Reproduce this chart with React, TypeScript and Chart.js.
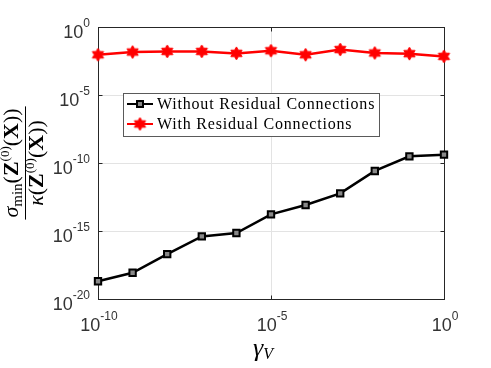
import { useEffect, useRef } from 'react';
import { Chart, registerables } from 'chart.js';

Chart.register(...registerables);

// ---- data ----
const gammaV = [1e-10, 1e-9, 1e-8, 1e-7, 1e-6, 1e-5, 1e-4, 1e-3, 1e-2, 1e-1, 1];
const withoutResidual = [2.0e-19, 8.5e-19, 2.0e-17, 4.0e-16, 7.1e-16, 1.66e-14, 8.1e-14, 5.9e-13, 2.6e-11, 3.1e-10, 4.1e-10];
const withResidual = [9.1e-3, 1.45e-2, 1.6e-2, 1.6e-2, 1.15e-2, 1.8e-2, 9.1e-3, 2.2e-2, 1.23e-2, 1.1e-2, 6.9e-3];
const seriesLabels = ['Without Residual Connections', 'With Residual Connections'];
const xTickValues = [1e-10, 1e-5, 1];
const xTickExponents = ['-10', '-5', '0'];
const yTickValues = [1e-20, 1e-15, 1e-10, 1e-5, 1];
const yTickExponents = ['-20', '-15', '-10', '-5', '0'];

const SANS = '"Liberation Sans", Arial, sans-serif';
const SERIF = '"Liberation Serif", "Times New Roman", serif';
const AXIS_COLOR = '#262626';

function makeHexagram(r: number, color: string): HTMLCanvasElement {
  const size = Math.ceil(2 * r + 2);
  const c = document.createElement('canvas');
  c.width = size;
  c.height = size;
  const g = c.getContext('2d')!;
  const cx = size / 2;
  const cy = size / 2;
  const inner = r / Math.sqrt(3);
  g.beginPath();
  for (let k = 0; k < 12; k++) {
    const ang = (-90 + k * 30) * Math.PI / 180;
    const rad = k % 2 === 0 ? r : inner;
    const px = cx + rad * Math.cos(ang);
    const py = cy + rad * Math.sin(ang);
    if (k === 0) g.moveTo(px, py); else g.lineTo(px, py);
  }
  g.closePath();
  g.fillStyle = color;
  g.fill();
  g.strokeStyle = color;
  g.lineWidth = 1;
  g.stroke();
  return c;
}

type Run = { t: string; font: string; dy: number };

function runsWidth(ctx: CanvasRenderingContext2D, runs: Run[]) {
  let w = 0;
  for (const r of runs) {
    ctx.font = r.font;
    w += ctx.measureText(r.t).width;
  }
  return w;
}

function drawRuns(ctx: CanvasRenderingContext2D, runs: Run[], x0: number, baseline: number) {
  let x = x0;
  for (const r of runs) {
    ctx.font = r.font;
    ctx.fillText(r.t, x, baseline + r.dy);
    x += ctx.measureText(r.t).width;
  }
}

function powRuns(exp: string): Run[] {
  return [
    { t: '10', font: `18px ${SANS}`, dy: 0 },
    { t: exp, font: `12px ${SANS}`, dy: -11 },
  ];
}

export default function App() {
  const ref = useRef<HTMLCanvasElement | null>(null);

  useEffect(() => {
    const canvas = ref.current;
    if (!canvas) return;
    const star = makeHexagram(6.5, '#ff0000');

    const decor = {
      id: 'decor',
      beforeDatasetsDraw(chart: any) {
        const { ctx, chartArea: a, scales } = chart;
        ctx.save();
        ctx.strokeStyle = AXIS_COLOR;
        ctx.lineWidth = 1;
        const L = Math.round(a.left) + 0.5;
        const R = Math.round(a.right) + 0.5;
        const T = Math.round(a.top) + 0.5;
        const B = Math.round(a.bottom) + 0.5;
        ctx.beginPath();
        for (const v of yTickValues) {
          const y = Math.round(scales.y.getPixelForValue(v)) + 0.5;
          ctx.moveTo(L, y); ctx.lineTo(L + 4, y);
          ctx.moveTo(R, y); ctx.lineTo(R - 4, y);
        }
        for (const v of xTickValues) {
          const x = Math.round(scales.x.getPixelForValue(v)) + 0.5;
          ctx.moveTo(x, B); ctx.lineTo(x, B - 4);
          ctx.moveTo(x, T); ctx.lineTo(x, T + 4);
        }
        ctx.stroke();
        ctx.strokeRect(L, T, R - L, B - T);
        ctx.restore();
      },
      afterDraw(chart: any) {
        const { ctx, chartArea: a, scales } = chart;
        ctx.save();
        ctx.fillStyle = '#333333';
        ctx.textBaseline = 'alphabetic';
        ctx.textAlign = 'left';
        // y tick labels
        yTickValues.forEach((v, i) => {
          const y = scales.y.getPixelForValue(v);
          const runs = powRuns(yTickExponents[i]);
          const w = runsWidth(ctx, runs);
          drawRuns(ctx, runs, a.left - 8 - w, y + 10.5);
        });
        // x tick labels
        xTickValues.forEach((v, i) => {
          const x = scales.x.getPixelForValue(v);
          const runs = powRuns(xTickExponents[i]);
          const w = runsWidth(ctx, runs);
          drawRuns(ctx, runs, x + 1 - w / 2, a.bottom + 32);
        });

        // x axis label: gamma_V
        ctx.fillStyle = '#000';
        const xl: Run[] = [
          { t: 'γ', font: `italic 26px ${SERIF}`, dy: 0 },
          { t: 'V', font: `italic 16px ${SERIF}`, dy: 3 },
        ];
        const xw = runsWidth(ctx, xl);
        drawRuns(ctx, xl, (a.left + a.right) / 2 - 8 - xw / 2, 356);

        // y axis label: fraction, rotated
        ctx.save();
        ctx.translate(25, 163);
        ctx.rotate(-Math.PI / 2);
        const F = 22;
        const num: Run[] = [
          { t: 'σ', font: `italic ${F}px ${SERIF}`, dy: 0 },
          { t: 'min', font: `15px ${SERIF}`, dy: 4 },
          { t: '(', font: `${F}px ${SERIF}`, dy: 0 },
          { t: 'Z', font: `bold ${F}px ${SERIF}`, dy: 0 },
          { t: '(0)', font: `13px ${SERIF}`, dy: -9 },
          { t: '(', font: `${F}px ${SERIF}`, dy: 0 },
          { t: 'X', font: `bold ${F}px ${SERIF}`, dy: 0 },
          { t: '))', font: `${F}px ${SERIF}`, dy: 0 },
        ];
        const den: Run[] = [
          { t: 'κ', font: `italic ${F}px ${SERIF}`, dy: 0 },
          { t: '(', font: `${F}px ${SERIF}`, dy: 0 },
          { t: 'Z', font: `bold ${F}px ${SERIF}`, dy: 0 },
          { t: '(0)', font: `13px ${SERIF}`, dy: -9 },
          { t: '(', font: `${F}px ${SERIF}`, dy: 0 },
          { t: 'X', font: `bold ${F}px ${SERIF}`, dy: 0 },
          { t: '))', font: `${F}px ${SERIF}`, dy: 0 },
        ];
        const nw = runsWidth(ctx, num);
        const dw = runsWidth(ctx, den);
        drawRuns(ctx, num, -nw / 2, -7);
        drawRuns(ctx, den, -dw / 2, 18);
        const half = Math.max(nw, dw) / 2 + 2;
        ctx.strokeStyle = '#000';
        ctx.lineWidth = 1;
        ctx.beginPath();
        ctx.moveTo(-half, 0.5);
        ctx.lineTo(half, 0.5);
        ctx.stroke();
        ctx.restore();

        // legend
        const lx = 123.5, ly = 93.5, lw = 256, lh = 43;
        ctx.fillStyle = '#fff';
        ctx.fillRect(lx, ly, lw, lh);
        ctx.strokeStyle = '#5a5a5a';
        ctx.lineWidth = 1;
        ctx.strokeRect(lx, ly, lw, lh);
        const rows = [104, 124];
        const colors = ['#000000', '#ff0000'];
        rows.forEach((ry, i) => {
          ctx.strokeStyle = colors[i];
          ctx.lineWidth = 2;
          ctx.beginPath();
          ctx.moveTo(127, ry);
          ctx.lineTo(153, ry);
          ctx.stroke();
          if (i === 0) {
            ctx.fillStyle = '#888888';
            ctx.fillRect(137, ry - 3, 6, 6);
            ctx.strokeStyle = '#000';
            ctx.lineWidth = 2;
            ctx.strokeRect(137, ry - 3, 6, 6);
          } else {
            ctx.drawImage(star, 140 - star.width / 2, ry - star.height / 2);
          }
          ctx.fillStyle = '#000';
          ctx.font = `16px ${SERIF}`;
          (ctx as any).letterSpacing = '0.8px';
          ctx.textBaseline = 'middle';
          ctx.fillText(seriesLabels[i], 157, ry + 1);
          (ctx as any).letterSpacing = '0px';
        });
        ctx.restore();
      },
    };

    const chart = new Chart(canvas, {
      type: 'line',
      data: {
        datasets: [
          {
            label: seriesLabels[0],
            data: gammaV.map((x, i) => ({ x, y: withoutResidual[i] })),
            borderColor: '#000000',
            borderWidth: 2.5,
            pointStyle: 'rect',
            pointRadius: 4.5,
            pointBorderWidth: 2,
            pointBackgroundColor: '#888888',
            pointBorderColor: '#000000',
            clip: false,
          },
          {
            label: seriesLabels[1],
            data: gammaV.map((x, i) => ({ x, y: withResidual[i] })),
            borderColor: '#ff0000',
            borderWidth: 2.5,
            pointStyle: star,
            pointRadius: 6,
            clip: false,
          },
        ],
      },
      options: {
        animation: false,
        responsive: true,
        maintainAspectRatio: false,
        layout: { padding: { left: 98, right: 47, top: 27, bottom: 69 } },
        plugins: { legend: { display: false }, tooltip: { enabled: false } },
        scales: {
          x: {
            type: 'logarithmic',
            min: 1e-10,
            max: 1,
            ticks: { display: false },
            grid: { color: '#e3e3e3', lineWidth: 1, drawTicks: false },
            border: { display: false },
            afterBuildTicks: (s: any) => { s.ticks = xTickValues.map((value) => ({ value })); },
            afterFit: (s: any) => { s.height = 0; },
          },
          y: {
            type: 'logarithmic',
            min: 1e-20,
            max: 1,
            ticks: { display: false },
            grid: { color: '#e3e3e3', lineWidth: 1, drawTicks: false },
            border: { display: false },
            afterBuildTicks: (s: any) => { s.ticks = yTickValues.map((value) => ({ value })); },
            afterFit: (s: any) => { s.width = 0; },
          },
        },
      },
      plugins: [decor],
    } as any);
    return () => chart.destroy();
  }, []);

  return (
    <div style={{ position: 'fixed', left: 0, top: 0, width: 491, height: 368, background: '#fff' }}>
      <canvas ref={ref} />
    </div>
  );
}
